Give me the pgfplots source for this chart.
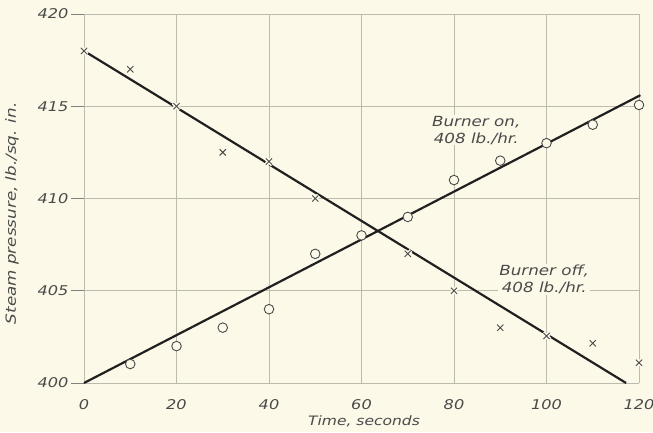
\documentclass[border=0pt]{standalone}
\usepackage{fontspec}
\setmainfont{DejaVu Sans}[FakeStretch=1.2]
\usepackage{pgfplots}
\pgfplotsset{compat=1.18}
\definecolor{bg}{HTML}{FCF9E8}
\definecolor{gridc}{HTML}{BDBBAE}
\definecolor{txt}{HTML}{4A4A4A}
\definecolor{ln}{HTML}{202020}
\begin{document}
\begin{tikzpicture}[x=1bp,y=1bp]
\fill[bg] (0,0) rectangle (653,432);
\useasboundingbox (0,0) rectangle (653,432);
\begin{axis}[
  at={(84bp,49bp)}, anchor=south west,
  scale only axis, width=555bp, height=369bp,
  xmin=0, xmax=120, ymin=400, ymax=420,
  xtick={0,20,...,120}, ytick={400,405,...,420},
  grid=major, major grid style={gridc, line width=0.8pt},
  axis line style={draw=none},
  ytick style={txt!70, line width=0.8pt},
  xtick style={draw=none},
  ytick pos=left, xtick pos=bottom,
  major tick length=13bp,
  tick align=outside,
  /pgf/number format/assume math mode=true,
  /pgf/number format/1000 sep={},
  ticklabel style={font=\fontsize{13.5}{14}\selectfont\itshape, text=txt},
  yticklabel style={xshift=1bp},
  xticklabel style={yshift=0bp},
  xlabel={Time, seconds}, ylabel={Steam pressure, lb./sq. in.},
  label style={font=\fontsize{13}{14}\selectfont\itshape, text=txt},
  xlabel style={at={(axis description cs:0.5045,0)}, anchor=center, yshift=-38bp},
  ylabel style={at={(axis description cs:0,0.46)}, anchor=center, yshift=72bp, font=\fontsize{14}{15}\selectfont\itshape},
  clip=false,
]
% fitted lines
\addplot[ln, line width=2.2pt] coordinates {(0,418) (117.2,400)};
\addplot[ln, line width=2.2pt] coordinates {(0,400) (120.3,415.6)};
% burner off (x marks) with background halo
\addplot[only marks, mark=x, bg, mark options={line width=4pt}, mark size=4.6pt] coordinates {
(0,418) (10,417) (20,415) (30,412.5) (40,412) (50,410) (60,408) (70,407) (80,405) (90,403) (100,402.55) (110,402.15) (120,401.1)};
\addplot[only marks, mark=x, txt, mark options={line width=0.9pt}, mark size=4.4pt] coordinates {
(0,418) (10,417) (20,415) (30,412.5) (40,412) (50,410) (60,408) (70,407) (80,405) (90,403) (100,402.55) (110,402.15) (120,401.1)};
% burner on (circles)
\addplot[only marks, mark=*, txt, mark options={line width=0.9pt, draw=txt, fill=bg}, mark size=4.8pt] coordinates {
(10,401.03) (20,402) (30,403) (40,404) (50,407) (60,408) (70,409) (80,411) (90,412.05) (100,413) (110,414) (120,415.07)};
\node[font=\fontsize{14}{17}\selectfont\itshape, text=txt, align=center, fill=bg, inner sep=1pt] at (axis cs:84.8,413.7) {Burner on,\\408 lb./hr.};
\node[font=\fontsize{14}{17}\selectfont\itshape, text=txt, align=center, fill=bg, inner sep=1pt] at (axis cs:99.5,405.6) {Burner off,\\408 lb./hr.};
\end{axis}
\end{tikzpicture}
\end{document}
